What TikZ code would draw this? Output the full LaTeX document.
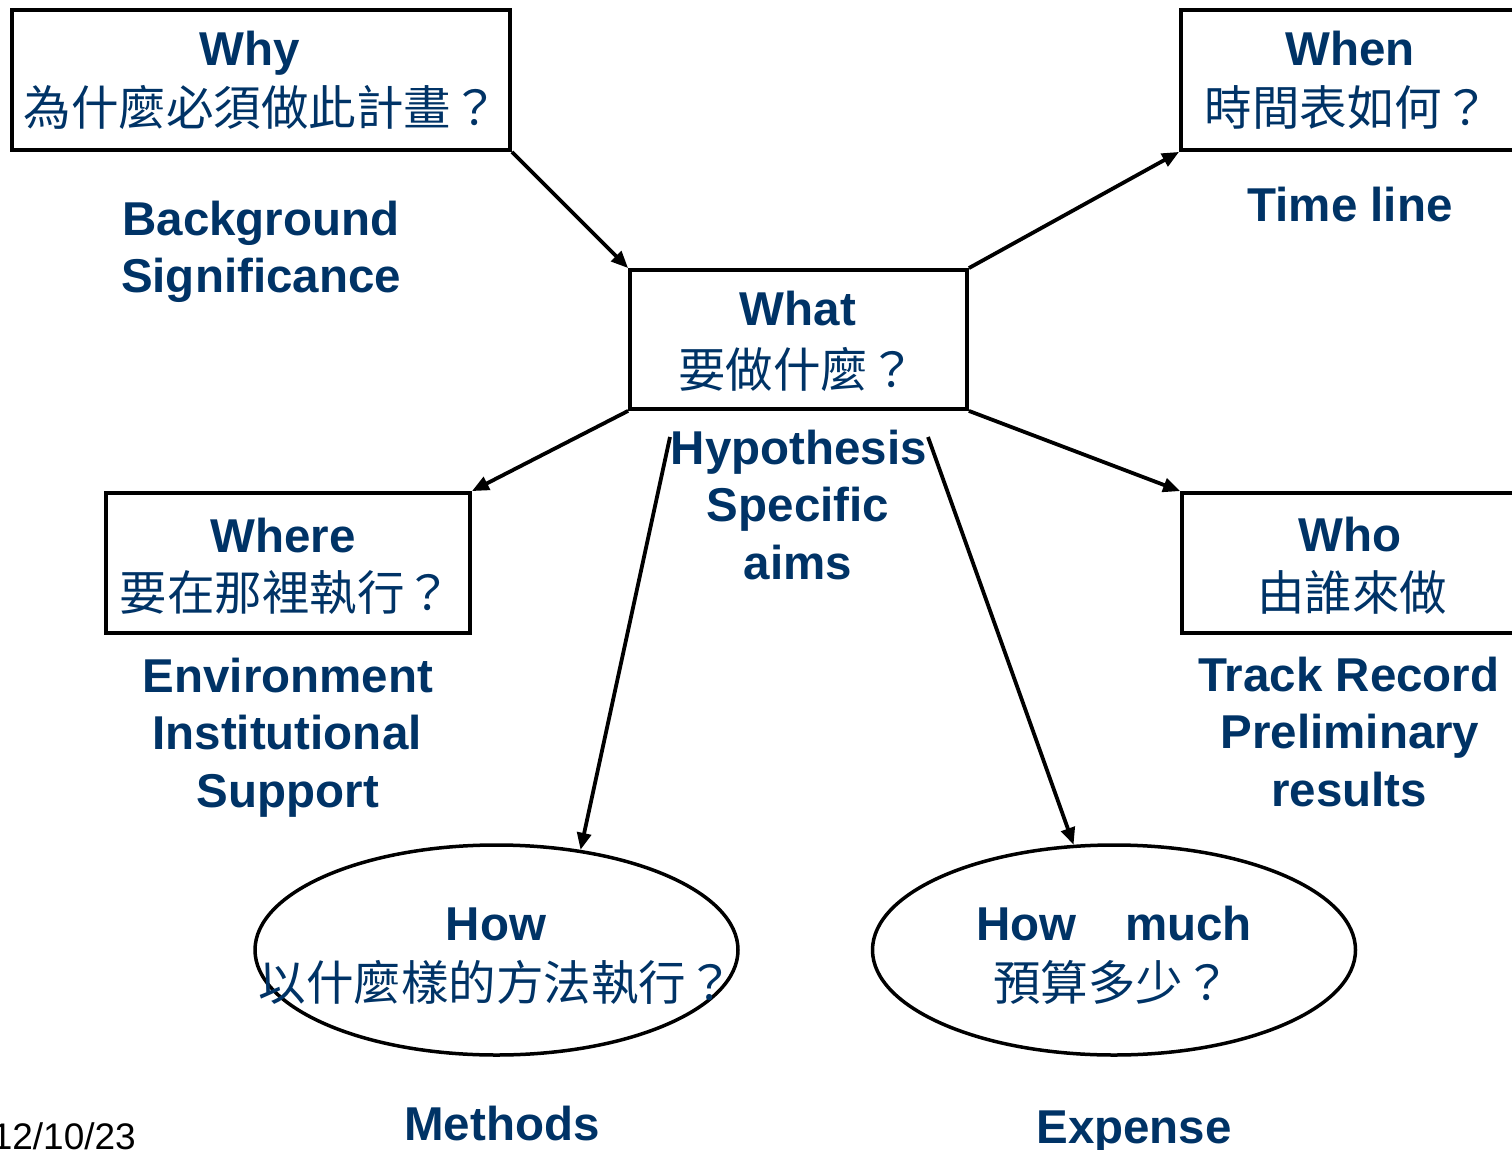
\documentclass[tikz,border=0pt]{standalone}
\usepackage{fontspec}
\setmainfont{Liberation Sans}
\newfontfamily\cjk{Noto Sans CJK TC}
\usetikzlibrary{shapes.geometric,arrows.meta}
\definecolor{navy}{RGB}{0,51,102}
\tikzset{
  box/.style={draw, line width=3.8pt, rectangle, inner sep=0pt},
  oval/.style={draw, line width=3.5pt, ellipse, inner sep=0pt, minimum width=483pt, minimum height=210pt},
  en/.style={text=navy, font=\bfseries\fontsize{47.5}{57}\selectfont, anchor=base, inner sep=0pt},
  zh/.style={text=navy, font=\cjk\fontsize{47.5}{57}\selectfont, anchor=base, inner sep=0pt},
  conn/.style={line width=3.8pt, -{Triangle[length=17pt,width=14pt]}},
}
\begin{document}
\begin{tikzpicture}[x=1pt,y=-1pt]
\useasboundingbox (0,0) rectangle (1512,1150);
\clip (0,0) rectangle (1512,1150);
% boxes
\node[box, minimum width=498pt, minimum height=140pt] (why) at (261,80) {};
\node[box, minimum width=337pt, minimum height=139pt] (what) at (798.5,339.5) {};
\node[box, minimum width=360pt, minimum height=140pt] (when) at (1361,80) {};
\node[box, minimum width=364pt, minimum height=140pt] (where) at (288,563) {};
\node[box, minimum width=360pt, minimum height=140pt] (who) at (1362,563) {};
\node[oval] (how) at (496.5,950) {};
\node[oval] (howmuch) at (1114,950) {};
% texts
\node[en] (tWhy) at (250,66) {Why};
\node[zh] (cWhy) at (261,126) {為什麼必須做此計畫？};
\node[en] (bg1) at (261,236) {Background};
\node[en] (bg2) at (261,293) {Significance};
\node[en] (tWhat) at (798,325) {What};
\node[zh] (cWhat) at (797,387) {要做什麼？};
\node[en] (hy1) at (799,464) {Hypothesis};
\node[en] (hy2) at (798,521.5) {Specific};
\node[en] (hy3) at (798,579) {aims};
\node[en] (tWhen) at (1350,66) {When};
\node[zh] (cWhen) at (1347,126) {時間表如何？};
\node[en] (tl) at (1350,222) {Time line};
\node[en] (tWhere) at (283,552) {Where};
\node[zh] (cWhere) at (286,610) {要在那裡執行？};
\node[en] (env1) at (288,692) {Environment};
\node[en] (env2) at (287,749.5) {Institutional};
\node[en] (env3) at (288,807) {Support};
\node[en] (tWho) at (1350,551) {Who};
\node[zh] (cWho) at (1352,610) {由誰來做};
\node[en] (tr1) at (1349,691) {Track Record};
\node[en] (tr2) at (1350,748.5) {Preliminary};
\node[en] (tr3) at (1349,806) {results};
\node[en] (tHow) at (496,940) {How};
\node[zh] (cHow) at (496,1000) {以什麼樣的方法執行？};
\node[en] (tHowMuch) at (1114,940) {How\hspace{49pt}much};
\node[zh] (cHowMuch) at (1112,1000) {預算多少？};
\node[en] (meth) at (502,1140) {Methods};
\node[en] (exp) at (1134,1143) {Expense};
\node[anchor=base east, inner sep=0pt, font=\fontsize{37}{44}\selectfont] (date) at (136,1149) {12/10/23};
% connectors
\coordinate (hsL) at (670,437);
\coordinate (hsR) at (928,437);
\draw[conn] (why.south east) -- (what.north west);
\draw[conn] (what.north east) -- (when.south west);
\draw[conn] (what.south west) -- (where.north east);
\draw[conn] (what.south east) -- (who.north west);
\draw[conn] (hsL) -- (how.50.5);
\draw[conn] (hsR) -- (howmuch.111.6);
\end{tikzpicture}
\end{document}
